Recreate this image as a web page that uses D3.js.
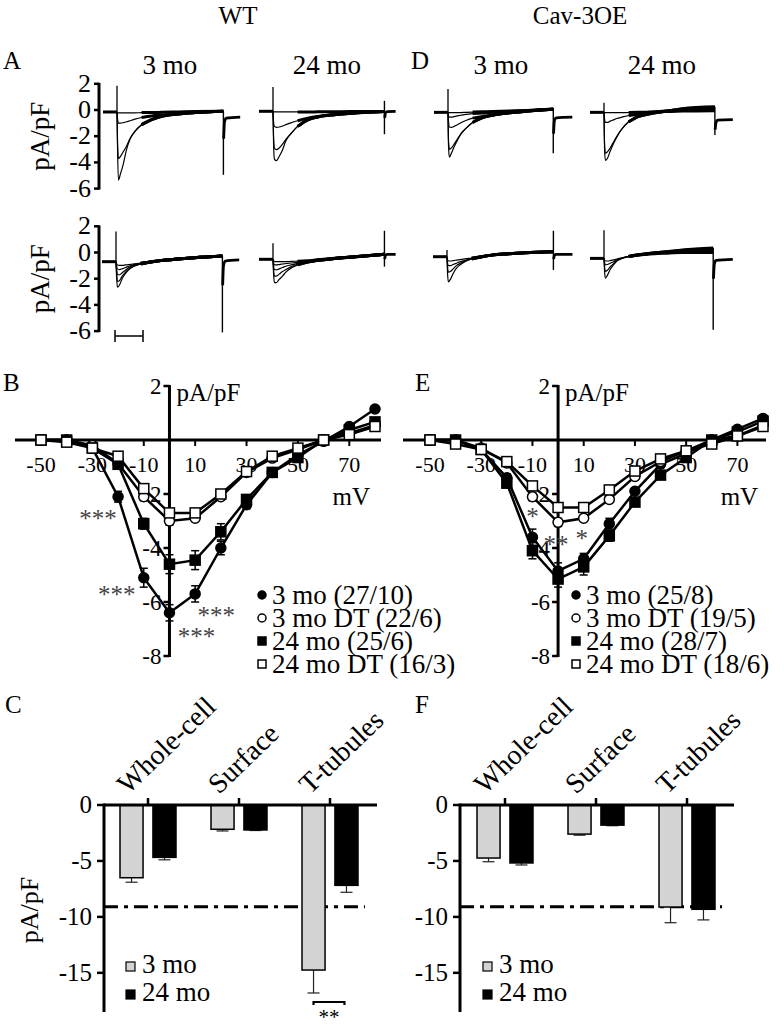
<!DOCTYPE html>
<html><head><meta charset="utf-8">
<script src="https://cdn.jsdelivr.net/npm/d3@7"></script>
<style>
body{margin:0;background:#fff}
svg{display:block}
text{font-family:"Liberation Serif","Times New Roman",serif;fill:#000}
</style>
</head><body>
<svg id="c" width="784" height="1030"></svg>
<script>
// ---------------- DATA ----------------
// Panel A / D: current traces (pA/pF) sampled at traceT (ms after pulse onset); last value = at pulse end
const traceT = [0, 1, 2.5, 6, 11, 17, 23, 32, 44, 62, 80, 110, 140];
const tracePanelNames = ["WT 3 mo", "WT 24 mo", "Cav-3OE 3 mo", "Cav-3OE 24 mo",
                         "WT 3 mo DT", "WT 24 mo DT", "Cav-3OE 3 mo DT", "Cav-3OE 24 mo DT"];
const preLevel   = [-0.15, -0.1, -0.18, -0.18, -0.7, -0.52, -0.32, -0.45];
const pulseMs    = [190, 199, 188, 198, 190, 199, 190, 195];
const onSpike    = [1.85, 1.75, 1.6, 0.55, 1.6, 0.7, 0.2, 1.7];
const offSpikeUp = [-0.1, 0.7, 0.15, 0.25, -0.27, 1.66, 1.66, 0.35];
const offSpikeDn = [-4.95, -1.85, -3.3, -1.9, -6.1, -1.08, -1.33, -5.9];
const tailMs     = [30, 20, 34, 32, 30, 20, 34, 35];
const tailT      = [0.5, 2, 5];
const tailValues = [
  [-2.2, -0.9, -0.62, -0.55], [-0.6, -0.2, -0.12, -0.1], [-1.8, -0.8, -0.6, -0.55], [-1.5, -0.95, -0.78, -0.74],
  [-2.5, -1.0, -0.65, -0.57], [-0.5, -0.2, -0.15, -0.14], [-0.5, -0.2, -0.15, -0.14], [-2.0, -0.9, -0.6, -0.52]];

const tracesWT3top = [
  [-0.15,-3.0,-5.35,-4.9,-4.17,-3.03,-2.26,-1.63,-1.12,-0.74,-0.48,-0.3,-0.2,-0.1],
  [-0.15,-2.5,-3.7,-3.55,-3.2,-2.77,-2.2,-1.63,-1.12,-0.74,-0.48,-0.3,-0.2,-0.1],
  [-0.15,-0.7,-1.0,-1.0,-0.97,-0.9,-0.82,-0.7,-0.57,-0.45,-0.38,-0.28,-0.2,-0.1],
  [-0.15,-0.2,-0.22,-0.22,-0.22,-0.22,-0.22,-0.22,-0.2,-0.2,-0.18,-0.15,-0.12,-0.1]];
const tracesWT24top = [
  [-0.1,-2.5,-3.75,-3.87,-3.55,-3.05,-2.35,-1.8,-1.25,-0.75,-0.53,-0.36,-0.25,-0.12],
  [-0.1,-2.0,-2.9,-3.03,-2.9,-2.6,-2.25,-1.8,-1.25,-0.75,-0.53,-0.36,-0.25,-0.12],
  [-0.1,-0.9,-1.25,-1.32,-1.3,-1.22,-1.12,-0.98,-0.82,-0.62,-0.5,-0.35,-0.25,-0.12],
  [-0.1,-0.12,-0.15,-0.15,-0.15,-0.15,-0.15,-0.15,-0.15,-0.15,-0.14,-0.13,-0.12,-0.12]];
const tracesOE3top = [
  [-0.18,-2.8,-3.6,-3.3,-2.8,-2.3,-1.85,-1.4,-0.95,-0.58,-0.4,-0.22,-0.1,0.05],
  [-0.18,-2.4,-3.0,-2.9,-2.6,-2.2,-1.8,-1.4,-0.95,-0.58,-0.4,-0.22,-0.1,0.05],
  [-0.18,-0.9,-1.3,-1.33,-1.25,-1.12,-0.98,-0.8,-0.62,-0.5,-0.38,-0.22,-0.1,0.05],
  [-0.18,-0.45,-0.55,-0.55,-0.5,-0.45,-0.4,-0.33,-0.27,-0.22,-0.18,-0.12,-0.05,0.05],
  [-0.18,-0.18,-0.2,-0.2,-0.2,-0.2,-0.2,-0.18,-0.16,-0.14,-0.12,-0.08,-0.03,0.08]];
const tracesOE24top = [
  [-0.18,-3.0,-3.85,-3.7,-3.15,-2.55,-2.05,-1.45,-0.9,-0.48,-0.3,-0.1,0.1,0.25],
  [-0.18,-2.6,-3.3,-3.2,-2.9,-2.45,-2.0,-1.45,-0.9,-0.48,-0.3,-0.1,0.08,0.2],
  [-0.18,-0.7,-0.95,-0.95,-0.85,-0.75,-0.65,-0.55,-0.42,-0.3,-0.2,-0.08,0.0,0.05],
  [-0.18,-0.2,-0.2,-0.2,-0.2,-0.2,-0.2,-0.2,-0.19,-0.18,-0.16,-0.12,-0.08,-0.05]];
const tracesWT3bot = [
  [-0.7,-1.8,-2.65,-2.5,-2.0,-1.6,-1.3,-1.05,-0.88,-0.72,-0.62,-0.5,-0.4,-0.27],
  [-0.7,-1.5,-2.2,-2.15,-1.8,-1.5,-1.25,-1.02,-0.86,-0.72,-0.62,-0.5,-0.4,-0.27],
  [-0.7,-1.2,-1.7,-1.7,-1.55,-1.35,-1.15,-0.98,-0.85,-0.72,-0.62,-0.5,-0.4,-0.27],
  [-0.7,-1.0,-1.25,-1.3,-1.25,-1.15,-1.05,-0.93,-0.83,-0.72,-0.62,-0.5,-0.4,-0.27],
  [-0.7,-0.85,-0.95,-0.98,-0.98,-0.95,-0.92,-0.87,-0.8,-0.72,-0.62,-0.5,-0.4,-0.27]];
const tracesWT24bot = [
  [-0.52,-1.6,-2.3,-2.3,-2.05,-1.8,-1.5,-1.2,-0.95,-0.72,-0.6,-0.45,-0.35,-0.14],
  [-0.52,-1.3,-1.8,-1.8,-1.65,-1.45,-1.3,-1.1,-0.9,-0.72,-0.6,-0.45,-0.35,-0.14],
  [-0.52,-1.0,-1.3,-1.33,-1.25,-1.15,-1.05,-0.95,-0.83,-0.7,-0.6,-0.45,-0.35,-0.14],
  [-0.52,-0.8,-0.95,-0.95,-0.92,-0.88,-0.84,-0.8,-0.75,-0.68,-0.58,-0.45,-0.35,-0.14],
  [-0.52,-0.62,-0.7,-0.7,-0.7,-0.7,-0.7,-0.68,-0.66,-0.63,-0.55,-0.44,-0.36,-0.14]];
const tracesOE3bot = [
  [-0.32,-1.6,-2.25,-2.05,-1.6,-1.2,-0.95,-0.7,-0.5,-0.32,-0.2,-0.1,-0.02,0.06],
  [-0.32,-1.1,-1.5,-1.45,-1.25,-1.0,-0.85,-0.65,-0.48,-0.32,-0.2,-0.1,-0.02,0.06],
  [-0.32,-0.8,-1.0,-1.0,-0.92,-0.82,-0.72,-0.6,-0.46,-0.32,-0.2,-0.1,-0.02,0.06],
  [-0.32,-0.55,-0.65,-0.65,-0.62,-0.58,-0.54,-0.48,-0.42,-0.32,-0.2,-0.1,-0.02,0.06]];
const tracesOE24bot = [
  [-0.45,-1.4,-1.95,-1.75,-1.3,-0.95,-0.65,-0.45,-0.3,-0.18,-0.08,0.05,0.2,0.35],
  [-0.45,-1.1,-1.45,-1.35,-1.1,-0.85,-0.62,-0.44,-0.3,-0.18,-0.08,0.03,0.15,0.28],
  [-0.45,-0.75,-0.95,-0.92,-0.82,-0.7,-0.58,-0.43,-0.3,-0.18,-0.1,0.0,0.08,0.15],
  [-0.45,-0.58,-0.65,-0.65,-0.62,-0.56,-0.5,-0.4,-0.3,-0.2,-0.12,-0.05,0.0,0.0]];
const traceSets = [tracesWT3top, tracesWT24top, tracesOE3top, tracesOE24top,
                   tracesWT3bot, tracesWT24bot, tracesOE3bot, tracesOE24bot];
const traceTicks = [2, 0, -2, -4, -6];
const scaleBarMs = 50;

// Panels B / E: I-V curves
const ivVoltages = [-50,-40,-30,-20,-10,0,10,20,30,40,50,60,70,80];
const ivXTicks = [-50,-30,-10,10,30,50,70];
const ivYTicks = [2,-2,-4,-6,-8];
const ivSeriesNames = ["3 mo", "3 mo DT", "24 mo", "24 mo DT"];
const wtLegend = ["3 mo (27/10)", "3 mo DT (22/6)", "24 mo (25/6)", "24 mo DT (16/3)"];
const oeLegend = ["3 mo (25/8)", "3 mo DT (19/5)", "24 mo (28/7)", "24 mo DT (18/6)"];
const wt3mo   = [0, 0, -0.3, -2.1, -5.1, -6.4, -5.7, -4.0, -2.4, -1.2, -0.55, -0.05, 0.5, 1.15];
const wt3moDT = [0, 0, -0.2, -0.87, -2.1, -3.0, -2.9, -2.1, -1.2, -0.67, -0.35, 0, 0.25, 0.55];
const wt24mo  = [0, 0, -0.3, -0.9, -3.1, -4.6, -4.45, -3.4, -2.2, -1.2, -0.65, 0, 0.37, 0.67];
const wt24moDT= [0, -0.08, -0.3, -0.6, -1.8, -2.7, -2.7, -2.0, -1.17, -0.6, -0.3, 0, 0.2, 0.5];
const wt3moErr   = [0,0,0.05,0.2,0.35,0.3,0.3,0.25,0.15,0.1,0.05,0.05,0.05,0.05];
const wt3moDTErr = [0,0,0.03,0.1,0.15,0.15,0.12,0.1,0.08,0.05,0.05,0.03,0.03,0.03];
const wt24moErr  = [0,0,0.05,0.15,0.2,0.35,0.35,0.3,0.15,0.1,0.05,0.03,0.03,0.03];
const wt24moDTErr= [0,0,0.03,0.1,0.15,0.15,0.12,0.1,0.08,0.05,0.05,0.03,0.03,0.03];
const oe3mo   = [0, 0, -0.35, -1.4, -3.6, -4.85, -4.4, -3.1, -1.9, -0.9, -0.5, 0, 0.4, 0.8];
const oe3moDT = [0, 0, -0.3, -0.85, -2.1, -3.05, -2.9, -2.2, -1.35, -0.8, -0.4, 0, 0.15, 0.55];
const oe24mo  = [0, 0, -0.35, -1.6, -4.1, -5.15, -4.7, -3.55, -2.3, -1.3, -0.65, 0, 0.3, 0.7];
const oe24moDT= [0, -0.15, -0.35, -0.8, -1.7, -2.5, -2.5, -1.85, -1.15, -0.7, -0.4, -0.15, 0.15, 0.5];
const oe3moErr   = [0,0,0.05,0.15,0.3,0.3,0.2,0.2,0.1,0.08,0.05,0.03,0.03,0.03];
const oe3moDTErr = [0,0,0.03,0.1,0.15,0.15,0.12,0.1,0.08,0.05,0.05,0.03,0.03,0.03];
const oe24moErr  = [0,0,0.05,0.15,0.3,0.3,0.3,0.2,0.1,0.08,0.05,0.03,0.03,0.03];
const oe24moDTErr= [0,0,0.03,0.1,0.12,0.12,0.1,0.1,0.08,0.05,0.05,0.03,0.03,0.03];
const wtStars = [{v:-20, i:-2.1, t:"***"}, {v:-10, i:-5.1, t:"***"}, {v:10, i:-5.7, t:"***"}, {v:0, i:-6.4, t:"***"}];
const oeStars = [{v:-10, i:-3.6, t:"*"}, {v:0, i:-4.85, t:"**"}, {v:10, i:-4.4, t:"*"}];

// Panels C / F: bar charts
const barCategories = ["Whole-cell", "Surface", "T-tubules"];
const barGroups = ["3 mo", "24 mo"];
const wtBar3mo  = [-6.5, -2.17, -14.75];
const wtBar24mo = [-4.68, -2.23, -7.18];
const wtBar3moErr  = [0.4, 0.15, 2.05];
const wtBar24moErr = [0.22, 0.05, 0.62];
const oeBar3mo  = [-4.74, -2.6, -9.12];
const oeBar24mo = [-5.18, -1.8, -9.32];
const oeBar3moErr  = [0.33, 0.1, 1.4];
const oeBar24moErr = [0.18, 0.05, 0.95];
const barYTicks = [0, -5, -10, -15];
const refLevel = -9.1;

// ---------------- DRAW ----------------
const svg = d3.select("#c");
function txt(g, x, y, s, size, anchor) {
  return g.append("text").attr("x", x).attr("y", y).attr("font-size", size)
    .attr("text-anchor", anchor || "start").text(s);
}

// Titles
txt(svg, 238, 24, "WT", 25, "middle");
txt(svg, 580, 24, "Cav-3OE", 25, "middle");
txt(svg, 3, 69, "A", 25); txt(svg, 411, 69, "D", 25);
txt(svg, 170, 74, "3 mo", 27, "middle"); txt(svg, 327, 74, "24 mo", 27, "middle");
txt(svg, 501, 74, "3 mo", 27, "middle"); txt(svg, 662, 74, "24 mo", 27, "middle");

// trace panels
const traceOrigins = [117, 273, 448, 604, 116, 273, 447, 604];
const traceZero = [110, 110, 110, 110, 252.5, 252.5, 252.5, 252.5];
const pxPerUnit = 13.1, pxPerMs = 0.56;

traceSets.forEach((set, p) => {
  const o = traceOrigins[p];
  const x = d3.scaleLinear().domain([0, 100]).range([o, o + 100 * pxPerMs]);
  const y = d3.scaleLinear().domain([0, 1]).range([traceZero[p], traceZero[p] - pxPerUnit]);
  const g = svg.append("g");
  const line = d3.line().x(d => x(d[0])).y(d => y(d[1])).curve(d3.curveMonotoneX);
  const T = traceT.concat([pulseMs[p]]);
  g.append("line").attr("x1", x(0)).attr("x2", x(0)).attr("y1", y(onSpike[p])).attr("y2", y(preLevel[p]))
    .attr("stroke", "#000").attr("stroke-width", 1.3);
  g.append("path").attr("d", line([[-25, preLevel[p]], [0, preLevel[p]]]))
    .attr("fill", "none").attr("stroke", "#000").attr("stroke-width", 3);
  set.forEach(tr => {
    const pts = T.map((t, j) => [t, tr[j]]);
    g.append("path").attr("d", line(pts)).attr("fill", "none").attr("stroke", "#000")
      .attr("stroke-width", 1.2);
  });
  set.forEach(tr => {
    const pts = T.map((t, j) => [t, tr[j]]).filter(d => d[0] >= 44);
    g.append("path").attr("d", line(pts)).attr("fill", "none").attr("stroke", "#000")
      .attr("stroke-width", 3);
  });
  g.append("line").attr("x1", x(pulseMs[p])).attr("x2", x(pulseMs[p]))
    .attr("y1", y(offSpikeUp[p])).attr("y2", y(offSpikeDn[p]))
    .attr("stroke", "#000").attr("stroke-width", 1.4);
  const tv = tailValues[p];
  const tpts = tailT.map((t, j) => [pulseMs[p] + t, tv[j]]).concat([[pulseMs[p] + tailMs[p], tv[3]]]);
  g.append("path").attr("d", line(tpts)).attr("fill", "none").attr("stroke", "#000").attr("stroke-width", 2.8);
});

// trace axes (WT only)
[110, 252.5].forEach(z => {
  const y = d3.scaleLinear().domain([0, 1]).range([z, z - pxPerUnit]);
  const g = svg.append("g");
  g.append("line").attr("x1", 99).attr("x2", 99).attr("y1", y(2) - 1).attr("y2", y(-6) + 1)
    .attr("stroke", "#000").attr("stroke-width", 3);
  traceTicks.forEach(v => {
    g.append("line").attr("x1", 94).attr("x2", 99).attr("y1", y(v)).attr("y2", y(v))
      .attr("stroke", "#000").attr("stroke-width", 2.5);
    txt(g, 91, y(v) + 8, v, 26, "end");
  });
  g.append("text").attr("transform", `translate(49,${y(-2)}) rotate(-90)`)
    .attr("font-size", 27).attr("text-anchor", "middle").text("pA/pF");
});
// scale bar
{
  const x0 = 115, x1 = x0 + scaleBarMs * pxPerMs, yb = 336;
  const g = svg.append("g").attr("stroke", "#000").attr("stroke-width", 1.5);
  g.append("line").attr("x1", x0).attr("x2", x1).attr("y1", yb).attr("y2", yb);
  g.append("line").attr("x1", x0).attr("x2", x0).attr("y1", yb - 6).attr("y2", yb + 6);
  g.append("line").attr("x1", x1).attr("x2", x1).attr("y1", yb - 6).attr("y2", yb + 6);
}

// IV panels
function ivPanel(opts) {
  const {xr, axisL, axisR, letter, letterX, series, errs, legend, legX, stars, starPos} = opts;
  const x = d3.scaleLinear().domain([-50, 80]).range(xr);
  const y = d3.scaleLinear().domain([2, -8]).range([386, 656]);
  const g = svg.append("g");
  txt(g, letterX, 391, letter, 25);
  g.append("line").attr("x1", axisL).attr("x2", axisR).attr("y1", y(0)).attr("y2", y(0))
    .attr("stroke", "#000").attr("stroke-width", 3);
  g.append("line").attr("x1", x(0)).attr("x2", x(0)).attr("y1", y(2) - 1).attr("y2", y(-8) + 1)
    .attr("stroke", "#000").attr("stroke-width", 3);
  ivYTicks.forEach(v => {
    g.append("line").attr("x1", x(0) - 6).attr("x2", x(0)).attr("y1", y(v)).attr("y2", y(v))
      .attr("stroke", "#000").attr("stroke-width", 2.5);
    txt(g, x(0) - 8, y(v) + 8, v, 23, "end");
  });
  ivXTicks.forEach(v => {
    g.append("line").attr("x1", x(v)).attr("x2", x(v)).attr("y1", y(0)).attr("y2", y(0) + 6)
      .attr("stroke", "#000").attr("stroke-width", 2);
    txt(g, x(v), 472, v, 22, "middle");
  });
  txt(g, x(0) + 7, 401, "pA/pF", 25);
  txt(g, x(70) + 2, 505, "mV", 25, "middle");
  stars.forEach(s => {
    const o = starPos[String(s.v)];
    g.append("text").attr("x", x(s.v) + o[0]).attr("y", y(s.i) + o[1])
      .attr("font-size", 25).attr("text-anchor", "middle").style("fill", "#444").text(s.t);
  });
  const line = d3.line().x((d, i) => x(ivVoltages[i])).y(d => y(d));
  series.forEach(s => {
    g.append("path").attr("d", line(s)).attr("fill", "none").attr("stroke", "#000").attr("stroke-width", 2.5);
  });
  series.forEach((s, k) => {
    s.forEach((v, i) => {
      const e = errs[k][i];
      if (e > 0.12) {
        const cx = x(ivVoltages[i]);
        g.append("line").attr("x1", cx).attr("x2", cx).attr("y1", y(v - e)).attr("y2", y(v + e))
          .attr("stroke", "#000").attr("stroke-width", 1.5);
        [v - e, v + e].forEach(w => g.append("line").attr("x1", cx - 4).attr("x2", cx + 4)
          .attr("y1", y(w)).attr("y2", y(w)).attr("stroke", "#000").attr("stroke-width", 1.5));
      }
    });
  });
  const drawMarker = (gg, k, cx, cy, sz) => {
    const filled = (k === 0 || k === 2);
    if (k < 2) gg.append("circle").attr("cx", cx).attr("cy", cy).attr("r", sz / 2)
      .attr("fill", filled ? "#000" : "#fff").attr("stroke", "#000").attr("stroke-width", 1.5);
    else gg.append("rect").attr("x", cx - sz / 2).attr("y", cy - sz / 2).attr("width", sz).attr("height", sz)
      .attr("fill", filled ? "#000" : "#fff").attr("stroke", "#000").attr("stroke-width", 1.5);
  };
  series.forEach((s, k) => s.forEach((v, i) => drawMarker(g, k, x(ivVoltages[i]), y(v), 10)));
  legend.forEach((l, k) => {
    const base = 604 + k * 23;
    drawMarker(g, k, legX, base - 9, 8);
    txt(g, legX + 10, base, l, 27);
  });
}
ivPanel({xr: [41, 375], axisL: 15, axisR: 381, letter: "B", letterX: 3,
  series: [wt3mo, wt3moDT, wt24mo, wt24moDT], errs: [wt3moErr, wt3moDTErr, wt24moErr, wt24moDTErr],
  legend: wtLegend, legX: 262, stars: wtStars,
  starPos: {"-20": [-20, 30], "-10": [-27, 25], "10": [21, 30], "0": [27, 32]}});
ivPanel({xr: [430, 763], axisL: 403, axisR: 766, letter: "E", letterX: 415,
  series: [oe3mo, oe3moDT, oe24mo, oe24moDT], errs: [oe3moErr, oe3moDTErr, oe24moErr, oe24moDTErr],
  legend: oeLegend, legX: 576, stars: oeStars,
  starPos: {"-10": [0, -12], "0": [-2, -18], "10": [-2, -12]}});

// Bar panels
function barPanel(opts) {
  const {axisX, xr, letter, letterX, v3, v24, e3, e24, yLabel, legX, bracket} = opts;
  const y = d3.scaleLinear().domain([0, -18.5]).range([805, 1012]);
  const xc = d3.scalePoint().domain(barCategories).range(xr);
  const xs = d3.scaleBand().domain(barGroups).range([-28, 28]).paddingInner(0.3);
  const g = svg.append("g");
  txt(g, letterX, 713, letter, 25);
  g.append("line").attr("x1", axisX).attr("x2", xc("T-tubules") + 35).attr("y1", y(refLevel)).attr("y2", y(refLevel))
    .attr("stroke", "#000").attr("stroke-width", 3).attr("stroke-dasharray", "14,6,4,6");
  const vals = [v3, v24], errs = [e3, e24];
  barGroups.forEach((grp, k) => {
    barCategories.forEach((c, i) => {
      const bx = xc(c) + xs(grp);
      const v = vals[k][i], e = errs[k][i];
      const cx = bx + xs.bandwidth() / 2;
      g.append("line").attr("x1", cx).attr("x2", cx).attr("y1", y(v - e)).attr("y2", y(v + e))
        .attr("stroke", "#222").attr("stroke-width", 1.2);
      [v - e, v + e].forEach(w => g.append("line").attr("x1", cx - 6).attr("x2", cx + 6)
        .attr("y1", y(w)).attr("y2", y(w)).attr("stroke", "#222").attr("stroke-width", 1.2));
      g.append("rect").attr("x", bx).attr("y", y(0)).attr("width", xs.bandwidth()).attr("height", y(v) - y(0))
        .attr("fill", k === 0 ? "#d3d3d3" : "#000").attr("stroke", "#000").attr("stroke-width", 1.5);
    });
  });
  g.append("line").attr("x1", axisX).attr("x2", xr[1] + 47).attr("y1", y(0)).attr("y2", y(0))
    .attr("stroke", "#000").attr("stroke-width", 3);
  g.append("line").attr("x1", axisX).attr("x2", axisX).attr("y1", y(0) - 1.5).attr("y2", y(-18.5))
    .attr("stroke", "#000").attr("stroke-width", 3);
  barYTicks.forEach(v => {
    g.append("line").attr("x1", axisX - 7).attr("x2", axisX).attr("y1", y(v)).attr("y2", y(v))
      .attr("stroke", "#000").attr("stroke-width", 2.5);
    txt(g, axisX - 12, y(v) + 8, v, 25, "end");
  });
  barCategories.forEach(c => {
    g.append("line").attr("x1", xc(c)).attr("x2", xc(c)).attr("y1", y(0)).attr("y2", y(0) - 7)
      .attr("stroke", "#000").attr("stroke-width", 2.5);
    g.append("text").attr("transform", `translate(${xc(c) - 20},795) rotate(-44)`)
      .attr("font-size", 28).text(c);
  });
  if (yLabel) g.append("text").attr("transform", `translate(38,910) rotate(-90)`)
    .attr("font-size", 26).attr("text-anchor", "middle").text(yLabel);
  barGroups.forEach((grp, k) => {
    const base = 973 + k * 28;
    g.append("rect").attr("x", legX).attr("y", base - 11).attr("width", 9).attr("height", 9)
      .attr("fill", k === 0 ? "#d3d3d3" : "#000").attr("stroke", "#000").attr("stroke-width", 1.2);
    txt(g, legX + 16, base, grp, 27);
  });
  if (bracket) {
    const c = "T-tubules";
    const a = xc(c) + xs("3 mo") + xs.bandwidth() / 2, b = xc(c) + xs("24 mo") + xs.bandwidth() / 2 - 2;
    g.append("path").attr("d", `M${a},1005 V1002 H${b} V1005`).attr("fill", "none")
      .attr("stroke", "#000").attr("stroke-width", 2.2);
    g.append("text").attr("x", (a + b) / 2).attr("y", 1024).attr("font-size", 21)
      .attr("text-anchor", "middle").text(bracket);
  }
}
barPanel({axisX: 104, xr: [148, 330], letter: "C", letterX: 5, v3: wtBar3mo, v24: wtBar24mo,
  e3: wtBar3moErr, e24: wtBar24moErr, yLabel: "pA/pF", legX: 126, bracket: "**"});
barPanel({axisX: 460, xr: [505, 687], letter: "F", letterX: 415, v3: oeBar3mo, v24: oeBar24mo,
  e3: oeBar3moErr, e24: oeBar24moErr, yLabel: null, legX: 483, bracket: null});
</script>
</body></html>
